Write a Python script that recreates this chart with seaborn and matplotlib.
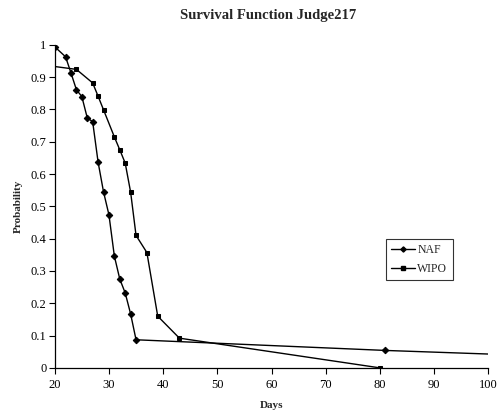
import matplotlib
matplotlib.use("Agg")
import matplotlib.pyplot as plt
import seaborn as sns
import pandas as pd
from matplotlib.lines import Line2D

# Data
naf_days = [20, 22, 23, 24, 25, 26, 27, 28, 29, 30, 31, 32, 33, 34, 35, 81, 110]
naf_prob = [0.994, 0.963, 0.913, 0.861, 0.840, 0.774, 0.762, 0.637, 0.545, 0.474,
            0.346, 0.275, 0.232, 0.167, 0.087, 0.054, 0.037]
wipo_days = [15, 24, 27, 28, 29, 31, 32, 33, 34, 35, 37, 39, 43, 80]
wipo_prob = [0.944, 0.924, 0.882, 0.841, 0.799, 0.715, 0.675, 0.634, 0.544, 0.410,
             0.357, 0.160, 0.092, 0.0]
series_names = ["NAF", "WIPO"]
x_ticks = [20, 30, 40, 50, 60, 70, 80, 90, 100]
y_ticks = [0, 0.1, 0.2, 0.3, 0.4, 0.5, 0.6, 0.7, 0.8, 0.9, 1]
y_tick_labels = ["0", "0.1", "0.2", "0.3", "0.4", "0.5", "0.6", "0.7", "0.8", "0.9", "1"]

df = pd.concat([
    pd.DataFrame({"Days": naf_days, "Probability": naf_prob, "series": series_names[0]}),
    pd.DataFrame({"Days": wipo_days, "Probability": wipo_prob, "series": series_names[1]}),
])

sns.set_style("white")
plt.rcParams["font.family"] = ["Liberation Serif", "DejaVu Serif"]

fig = plt.figure(figsize=(5.02, 4.19), dpi=100)
ax = fig.add_axes([0.109, 0.122, 0.864, 0.771])

marker_map = {"NAF": "D", "WIPO": "s"}
size_map = {"NAF": 3.3, "WIPO": 3.5}
for name in series_names:
    sub = df[df["series"] == name]
    sns.lineplot(data=sub, x="Days", y="Probability", ax=ax, color="black",
                 linewidth=1.0, marker=marker_map[name], markersize=size_map[name],
                 markeredgecolor="black", markerfacecolor="black",
                 estimator=None, sort=False, legend=False)

ax.set_xlim(20, 100)
ax.set_ylim(0, 1)
ax.set_xticks(x_ticks)
ax.set_xticklabels([str(t) for t in x_ticks])
ax.set_yticks(y_ticks)
ax.set_yticklabels(y_tick_labels)

for side in ["top", "right"]:
    ax.spines[side].set_visible(False)
for side in ["left", "bottom"]:
    ax.spines[side].set_color("black")
    ax.spines[side].set_linewidth(0.9)

ax.tick_params(axis="both", which="major", direction="out", length=4, width=0.8,
               color="black", labelsize=9, labelcolor="black", pad=2,
               left=True, bottom=True)
ax.tick_params(axis="x", pad=4)

ax.set_xlabel("Days", fontsize=8, fontweight="bold")
ax.set_ylabel("Probability", fontsize=8, fontweight="bold")
ax.xaxis.label.set_va("center")
ax.yaxis.label.set_va("center")
ax.xaxis.set_label_coords(0.5, (368 - 406) / 323)
ax.yaxis.set_label_coords((18 - 54.8) / 433.5, 0.5)
fig.text(0.535, 0.964, "Survival Function Judge217", ha="center", va="center",
         fontsize=10.5, fontweight="bold")

handles = [Line2D([0], [0], color="black", lw=1.0, marker=marker_map[n],
                  markersize=size_map[n] * 0.8, markerfacecolor="black") for n in series_names]
leg = ax.legend(handles, series_names, loc="upper left",
                bbox_to_anchor=(386 / 502, 1 - 239 / 419), bbox_transform=fig.transFigure,
                frameon=True, fancybox=False, fontsize=8.5, handlelength=2.0,
                handletextpad=0.2, borderpad=0.45, labelspacing=0.55, borderaxespad=0)
leg.get_frame().set_edgecolor("black")
leg.get_frame().set_linewidth(0.8)

fig.savefig("out.png", dpi=100)
